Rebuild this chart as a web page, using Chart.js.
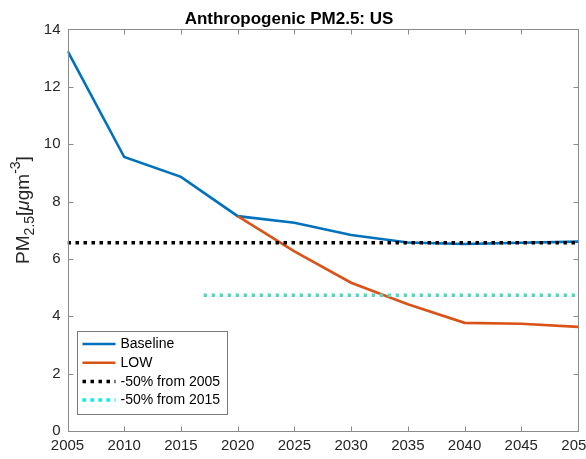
<!DOCTYPE html>
<html>
<head>
<meta charset="utf-8">
<script src="https://cdn.jsdelivr.net/npm/chart.js@4.4.0/dist/chart.umd.min.js"></script>
<style>
  html, body { margin: 0; padding: 0; background: #fff; overflow: hidden; }
  #wrap { width: 603px; height: 459px; }
</style>
</head>
<body>
<div id="wrap"><canvas id="pmChart" width="603" height="459"></canvas></div>
<script>
// values
const years = [2005, 2010, 2015, 2020, 2025, 2030, 2035, 2040, 2045, 2050];
const baseline = [13.25, 9.55, 8.86, 7.49, 7.26, 6.83, 6.57, 6.52, 6.56, 6.6];
const low = [null, null, null, 7.49, 6.26, 5.17, 4.42, 3.77, 3.74, 3.63];
const half2005 = 6.56;
const half2015 = 4.73;
const half2015From = 2017;
const yTicks = [0, 2, 4, 6, 8, 10, 12, 14];
const labels = ["Baseline", "LOW", "-50% from 2005", "-50% from 2015"];

const FONT = "'Liberation Sans', Arial, Helvetica, sans-serif";
const TEXT = "#262626";
const AXIS = "#8a8a8a";

const toPoints = arr => years.map((yr, i) => ({ x: yr, y: arr[i] }));

// MATLAB style box, inward ticks, legend and y label
const matlabAxes = {
  id: "matlabAxes",
  afterDraw(chart) {
    const { ctx, chartArea: a, scales: { x, y } } = chart;
    ctx.save();
    ctx.strokeStyle = AXIS;
    ctx.lineWidth = 1;
    const L = Math.round(a.left) + 0.5, R = Math.round(a.right) + 0.5;
    const T = Math.round(a.top) + 0.5, B = Math.round(a.bottom) + 0.5;
    ctx.strokeRect(L, T, R - L, B - T);
    ctx.beginPath();
    x.ticks.forEach(t => {
      const px = Math.round(x.getPixelForValue(t.value)) + 0.5;
      ctx.moveTo(px, B); ctx.lineTo(px, B - 5);
      ctx.moveTo(px, T); ctx.lineTo(px, T + 5);
    });
    y.ticks.forEach(t => {
      const py = Math.round(y.getPixelForValue(t.value)) + 0.5;
      ctx.moveTo(L, py); ctx.lineTo(L + 5, py);
      ctx.moveTo(R, py); ctx.lineTo(R - 5, py);
    });
    ctx.stroke();

    // legend
    const bx = Math.round(a.left + 9.5) + 0.5;
    const bw = 150, bh = 83;
    const by = Math.round(a.bottom - 17 - bh) + 0.5;
    ctx.fillStyle = "#fff";
    ctx.fillRect(bx, by, bw, bh);
    ctx.strokeStyle = "#7a7a7a";
    ctx.strokeRect(bx, by, bw, bh);
    ctx.font = "14px " + FONT;
    ctx.textBaseline = "middle";
    chart.data.datasets.forEach((ds, i) => {
      const ry = by + 12.5 + i * 18.7;
      ctx.beginPath();
      ctx.strokeStyle = ds.legendColor || ds.borderColor;
      ctx.lineWidth = ds.borderWidth;
      ctx.setLineDash(ds.borderDash || []);
      ctx.moveTo(bx + 5, ry);
      ctx.lineTo(bx + 38, ry);
      ctx.stroke();
      ctx.setLineDash([]);
      ctx.fillStyle = "#000";
      ctx.fillText(ds.label, bx + 43, ry + 0.5);
    });

    // y axis title: PM_2.5 [μgm^-3]
    const parts = [
      { t: "PM", f: "19px " + FONT, dy: 0 },
      { t: "2.5", f: "14px " + FONT, dy: 6 },
      { t: "[", f: "19px " + FONT, dy: 0 },
      { t: "\u03bc", f: "italic 19px " + FONT, dy: 0 },
      { t: "gm", f: "19px " + FONT, dy: 0 },
      { t: "-3", f: "14px " + FONT, dy: -8 },
      { t: "]", f: "19px " + FONT, dy: 0 }
    ];
    let total = 0;
    parts.forEach(p => { ctx.font = p.f; p.w = ctx.measureText(p.t).width; total += p.w; });
    ctx.translate(24, 210);
    ctx.rotate(-Math.PI / 2);
    ctx.fillStyle = TEXT;
    ctx.textBaseline = "middle";
    let cx = -total / 2;
    parts.forEach(p => { ctx.font = p.f; ctx.fillText(p.t, cx, p.dy); cx += p.w; });
    ctx.restore();
  }
};

new Chart(document.getElementById("pmChart"), {
  type: "line",
  data: {
    datasets: [
      {
        label: labels[0],
        data: toPoints(baseline),
        borderColor: "#0072BD",
        borderWidth: 2.6,
        order: 4
      },
      {
        label: labels[1],
        data: toPoints(low),
        borderColor: "#D95319",
        borderWidth: 2.6,
        order: 3
      },
      {
        label: labels[2],
        data: [{ x: years[0], y: half2005 }, { x: years[years.length - 1], y: half2005 }],
        borderColor: "#000000",
        borderWidth: 3.5,
        borderDash: [3.5, 4.5],
        borderCapStyle: "butt",
        order: 2
      },
      {
        label: labels[3],
        data: [{ x: half2015From, y: half2015 }, { x: years[years.length - 1], y: half2015 }],
        borderColor: "#55D8BF",
        legendColor: "#00F0F0",
        borderWidth: 3.5,
        borderDash: [3.5, 4.5],
        borderCapStyle: "butt",
        order: 1
      }
    ]
  },
  options: {
    responsive: false,
    animation: false,
    devicePixelRatio: 1,
    layout: { padding: { left: 0, right: 25, top: 0, bottom: 5 } },
    elements: { point: { radius: 0 }, line: { tension: 0 } },
    plugins: {
      legend: { display: false },
      tooltip: { enabled: false },
      title: {
        display: true,
        text: "Anthropogenic PM2.5: US",
        color: "#000",
        font: { family: FONT, size: 17, weight: "bold" },
        padding: { top: 9, bottom: 0 }
      }
    },
    scales: {
      x: {
        type: "linear",
        min: years[0],
        max: years[years.length - 1],
        grid: { display: false, drawTicks: false },
        border: { display: false },
        afterFit: s => { s.height = 23; },
        ticks: {
          stepSize: 5,
          padding: 6,
          color: TEXT,
          maxRotation: 0,
          font: { family: FONT, size: 15 },
          callback: v => String(v)
        }
      },
      y: {
        min: 0,
        max: 14,
        grid: { display: false, drawTicks: false },
        border: { display: false },
        afterFit: s => { s.width = 67.5; },
        afterBuildTicks: s => { s.ticks = yTicks.map(v => ({ value: v })); },
        ticks: {
          padding: 7,
          color: TEXT,
          font: { family: FONT, size: 15 }
        }
      }
    }
  },
  plugins: [matlabAxes]
});
</script>
</body>
</html>
